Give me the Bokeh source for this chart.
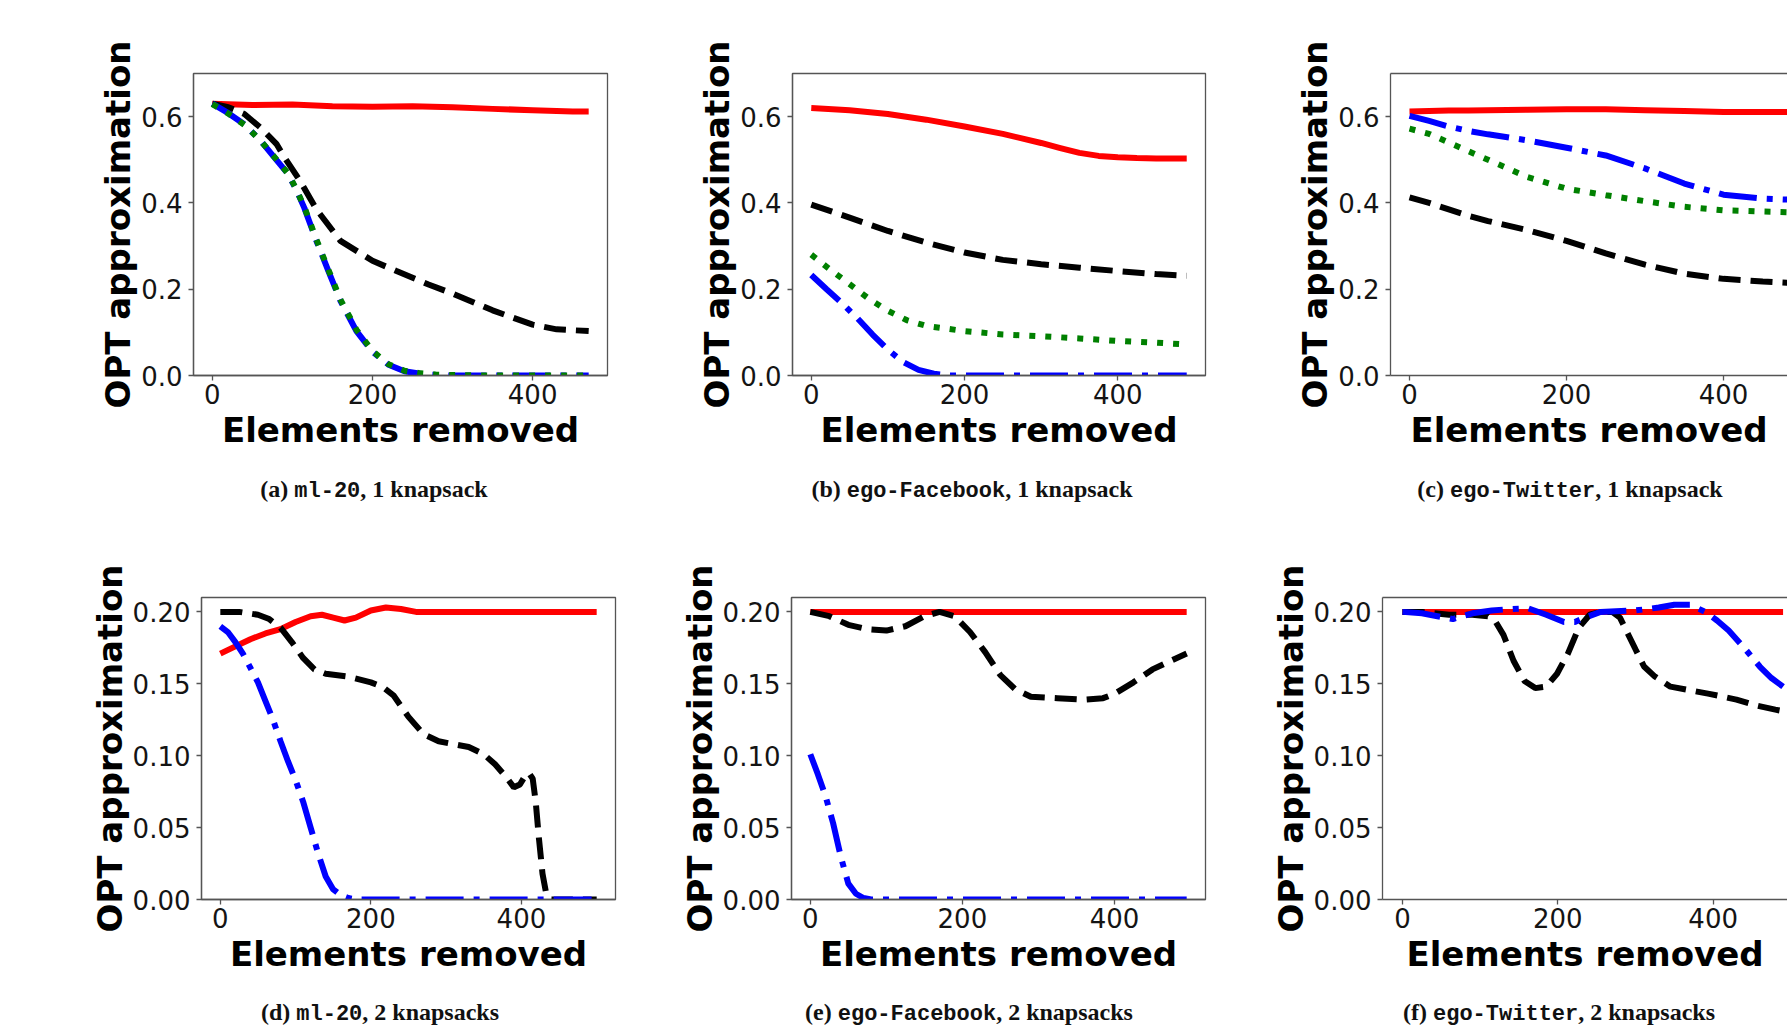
from bokeh.plotting import figure
from bokeh.models import Range1d, FixedTicker, LinearAxis, Div, PrintfTickFormatter
from bokeh.layouts import row, column
from bokeh.embed import file_html
from bokeh.resources import INLINE

# ---------------- data ----------------
x_ticks = [0, 200, 400]
y_ticks_top = [0.0, 0.2, 0.4, 0.6]
y_ticks_bottom = [0.0, 0.05, 0.10, 0.15, 0.20]
x_label = "Elements removed"
y_label = "OPT approximation"

# (a) ml-20, 1 knapsack
a_x_red = [0, 50, 100, 150, 200, 250, 300, 350, 400, 450, 470]
a_red = [0.630, 0.627, 0.628, 0.624, 0.623, 0.624, 0.622, 0.618, 0.615, 0.612, 0.612]
a_x_black = [0, 20, 40, 60, 80, 90, 110, 130, 160, 200, 230, 270, 300, 350, 400, 430, 470]
a_black = [0.630, 0.622, 0.606, 0.575, 0.537, 0.506, 0.450, 0.385, 0.312, 0.266, 0.242, 0.211, 0.190, 0.151, 0.118, 0.107, 0.103]
a_x_blue = [0, 20, 40, 60, 80, 95, 105, 115, 130, 145, 160, 180, 200, 220, 240, 260, 280, 300, 350, 400, 470]
a_blue = [0.630, 0.608, 0.582, 0.545, 0.500, 0.466, 0.430, 0.388, 0.312, 0.242, 0.173, 0.103, 0.055, 0.025, 0.010, 0.004, 0.001, 0.0, 0.0, 0.0, 0.0]
a_green = [0.629, 0.607, 0.581, 0.545, 0.501, 0.467, 0.431, 0.390, 0.315, 0.245, 0.176, 0.106, 0.057, 0.026, 0.011, 0.005, 0.002, 0.001, 0.0, 0.0, 0.0]

# (b) ego-Facebook, 1 knapsack
b_x_red = [0, 50, 100, 150, 200, 250, 300, 325, 350, 375, 400, 425, 450, 490]
b_red = [0.620, 0.615, 0.606, 0.593, 0.577, 0.560, 0.539, 0.527, 0.516, 0.509, 0.506, 0.504, 0.503, 0.503]
b_x = [0, 50, 100, 150, 200, 250, 300, 350, 400, 450, 490]
b_black = [0.396, 0.366, 0.335, 0.308, 0.285, 0.268, 0.258, 0.250, 0.242, 0.235, 0.231]
b_x_green = [0, 25, 50, 75, 100, 125, 150, 200, 250, 300, 350, 400, 450, 490]
b_green = [0.280, 0.245, 0.212, 0.178, 0.150, 0.128, 0.115, 0.103, 0.095, 0.091, 0.086, 0.080, 0.076, 0.072]
b_x_blue = [0, 20, 40, 60, 80, 100, 120, 140, 160, 180, 250, 300, 400, 490]
b_blue = [0.233, 0.200, 0.168, 0.133, 0.095, 0.060, 0.031, 0.013, 0.004, 0.0, 0.0, 0.0, 0.0, 0.0]

# (c) ego-Twitter, 1 knapsack
c_x = [0, 25, 50, 75, 100, 150, 200, 250, 300, 350, 400, 450, 490]
c_red = [0.612, 0.613, 0.614, 0.614, 0.615, 0.616, 0.617, 0.617, 0.615, 0.613, 0.611, 0.611, 0.611]
c_blue = [0.602, 0.590, 0.577, 0.567, 0.559, 0.545, 0.528, 0.510, 0.480, 0.445, 0.419, 0.410, 0.407]
c_green = [0.572, 0.560, 0.540, 0.520, 0.500, 0.460, 0.433, 0.418, 0.404, 0.391, 0.383, 0.380, 0.378]
c_black = [0.413, 0.400, 0.385, 0.370, 0.358, 0.337, 0.312, 0.283, 0.257, 0.236, 0.224, 0.218, 0.214]

# (d) ml-20, 2 knapsacks
d_x_red = [0, 20, 40, 60, 80, 100, 120, 135, 150, 165, 180, 200, 220, 240, 260, 280, 350, 400, 450, 500]
d_red = [0.171, 0.176, 0.181, 0.185, 0.188, 0.193, 0.197, 0.198, 0.196, 0.194, 0.196, 0.201, 0.203, 0.202, 0.200, 0.200, 0.200, 0.200, 0.200, 0.200]
d_x_black = [0, 25, 50, 65, 80, 95, 110, 125, 140, 170, 200, 215, 230, 250, 270, 290, 330, 350, 365, 380, 390, 398, 405, 410, 415, 419, 423, 428, 433, 440, 470, 500]
d_black = [0.200, 0.200, 0.198, 0.195, 0.189, 0.179, 0.168, 0.160, 0.157, 0.155, 0.151, 0.148, 0.142, 0.127, 0.115, 0.110, 0.106, 0.101, 0.094, 0.085, 0.078, 0.080, 0.086, 0.088, 0.084, 0.068, 0.044, 0.018, 0.004, 0.0, 0.0, 0.0]
d_x_blue = [0, 10, 20, 30, 40, 50, 60, 70, 80, 90, 100, 110, 120, 130, 140, 150, 160, 170, 180, 250, 350, 450, 500]
d_blue = [0.190, 0.186, 0.179, 0.171, 0.161, 0.151, 0.138, 0.125, 0.110, 0.096, 0.083, 0.068, 0.050, 0.032, 0.016, 0.007, 0.003, 0.001, 0.0, 0.0, 0.0, 0.0, 0.0]

# (e) ego-Facebook, 2 knapsacks
e_x_red = [0, 100, 200, 300, 400, 495]
e_red = [0.200, 0.200, 0.200, 0.200, 0.200, 0.200]
e_x_black = [0, 25, 50, 75, 100, 125, 150, 170, 190, 210, 230, 250, 270, 290, 325, 360, 385, 400, 425, 450, 470, 495]
e_black = [0.200, 0.197, 0.191, 0.188, 0.187, 0.190, 0.197, 0.200, 0.197, 0.186, 0.172, 0.156, 0.146, 0.141, 0.140, 0.139, 0.140, 0.143, 0.151, 0.160, 0.165, 0.171]
e_x_blue = [0, 10, 20, 30, 40, 50, 60, 70, 80, 150, 250, 350, 450, 495]
e_blue = [0.101, 0.087, 0.072, 0.053, 0.030, 0.011, 0.004, 0.001, 0.0, 0.0, 0.0, 0.0, 0.0, 0.0]

# (f) ego-Twitter, 2 knapsacks
f_x_red = [0, 100, 200, 300, 400, 490]
f_red = [0.200, 0.200, 0.200, 0.200, 0.200, 0.200]
f_x_black = [0, 25, 60, 90, 110, 120, 130, 143, 157, 171, 185, 199, 213, 227, 241, 255, 270, 280, 290, 300, 311, 325, 345, 365, 395, 430, 455, 480, 490]
f_black = [0.200, 0.200, 0.198, 0.198, 0.197, 0.193, 0.184, 0.166, 0.152, 0.147, 0.148, 0.157, 0.171, 0.189, 0.198, 0.200, 0.200, 0.196, 0.185, 0.174, 0.162, 0.155, 0.148, 0.146, 0.143, 0.139, 0.135, 0.132, 0.131]
f_x_blue = [0, 25, 45, 65, 90, 115, 140, 162, 185, 208, 222, 235, 255, 300, 330, 350, 370, 390, 405, 420, 440, 460, 475, 490]
f_blue = [0.200, 0.199, 0.197, 0.195, 0.199, 0.201, 0.202, 0.2025, 0.198, 0.193, 0.193, 0.196, 0.200, 0.201, 0.203, 0.205, 0.205, 0.200, 0.194, 0.187, 0.175, 0.162, 0.154, 0.148]

captions_top = [("(a) ", "ml-20", ", 1 knapsack"), ("(b) ", "ego-Facebook", ", 1 knapsack"), ("(c) ", "ego-Twitter", ", 1 knapsack")]
captions_bottom = [("(d) ", "ml-20", ", 2 knapsacks"), ("(e) ", "ego-Facebook", ", 2 knapsacks"), ("(f) ", "ego-Twitter", ", 2 knapsacks")]

# ---------------- styles ----------------
FRAME = "#555555"
TXT = "#141414"
LW = 6
STYLE = {
    "red": dict(line_color="#ff0000", line_width=LW, line_join="round"),
    "black": dict(line_color="#000000", line_width=LW, line_dash="22 10"),
    "blue": dict(line_color="#0000ff", line_width=LW, line_dash="38 10 6 10"),
    "green": dict(line_color="#008000", line_width=LW, line_dash="6 10"),
}


def panel(width, height, bl, br, bt, bb, xr, yr, yticks, yfmt, open_right, series):
    p = figure(width=width, height=height, x_range=Range1d(*xr), y_range=Range1d(*yr),
               output_backend="svg", toolbar_location=None, tools="",
               min_border_left=bl, min_border_right=br, min_border_top=bt, min_border_bottom=bb,
               background_fill_color="white", border_fill_color="white")
    p.xgrid.visible = False
    p.ygrid.visible = False
    xa = p.below[0]
    ya = p.left[0]
    for ax in (xa, ya):
        ax.axis_line_color = FRAME
        ax.axis_line_width = 1.3
        ax.major_tick_line_color = FRAME
        ax.major_tick_line_width = 1.3
        ax.major_tick_in = 0
        ax.major_tick_out = 5
        ax.minor_tick_line_color = None
        ax.major_label_text_font = "DejaVu Sans"
        ax.major_label_text_font_size = "26px"
        ax.major_label_text_color = TXT
        ax.axis_label_text_font = "DejaVu Sans"
        ax.axis_label_text_font_size = "34px"
        ax.axis_label_text_font_style = "bold"
        ax.axis_label_text_color = "#000000"
    xa.ticker = FixedTicker(ticks=x_ticks)
    xa.axis_label = x_label
    xa.major_label_standoff = 3
    xa.axis_label_standoff = 3
    ya.ticker = FixedTicker(ticks=yticks)
    ya.formatter = PrintfTickFormatter(format=yfmt)
    ya.axis_label = y_label
    ya.major_label_standoff = 6
    ya.axis_label_standoff = 0
    if open_right:
        p.outline_line_color = None
        top = LinearAxis(ticker=FixedTicker(ticks=[]), axis_line_color=FRAME, axis_line_width=1.3,
                         major_tick_line_color=None, minor_tick_line_color=None,
                         major_label_text_font_size="0px", major_label_standoff=0,
                         axis_label_standoff=0)
        p.add_layout(top, "above")
    else:
        p.outline_line_color = FRAME
        p.outline_line_width = 1.3
        p.outline_line_alpha = 1.0
    for name, xs, ys in series:
        p.line(xs, ys, **STYLE[name])
    return p


H1, BT1, BB1 = 473, 73, 98
H2, BT2, BB2 = 470, 72, 96

pa = panel(660, H1, 193, 53, BT1, BB1, (-23.5, 493.5), (0, 0.7), y_ticks_top, "%.1f", False,
           [("red", a_x_red, a_red), ("black", a_x_black, a_black), ("blue", a_x_blue, a_blue), ("green", a_x_blue, a_green)])
pb = panel(600, H1, 132, 55, BT1, BB1, (-24.5, 514.5), (0, 0.7), y_ticks_top, "%.1f", False,
           [("red", b_x_red, b_red), ("black", b_x, b_black), ("blue", b_x_blue, b_blue), ("green", b_x_green, b_green)])
pc = panel(527, H1, 130, 0, BT1, BB1, (-24.2, 481.5), (0, 0.7), y_ticks_top, "%.1f", True,
           [("red", c_x, c_red), ("black", c_x, c_black), ("blue", c_x, c_blue), ("green", c_x, c_green)])

pd_ = panel(665, H2, 201, 50, BT2, BB2, (-25, 525), (0, 0.21), y_ticks_bottom, "%.2f", False,
            [("red", d_x_red, d_red), ("black", d_x_black, d_black), ("blue", d_x_blue, d_blue)])
pe = panel(595, H2, 126, 55, BT2, BB2, (-24.75, 519.75), (0, 0.21), y_ticks_bottom, "%.2f", False,
           [("red", e_x_red, e_red), ("black", e_x_black, e_black), ("blue", e_x_blue, e_blue)])
pf = panel(527, H2, 122, 0, BT2, BB2, (-25.7, 495.7), (0, 0.21), y_ticks_bottom, "%.2f", True,
           [("red", f_x_red, f_red), ("black", f_x_black, f_black), ("blue", f_x_blue, f_blue)])


def caption_div(caps, centers, cy, height):
    serif = "font-family:'Liberation Serif',serif;font-weight:bold;font-size:24px;color:#111;"
    mono = "font-family:'Liberation Mono',monospace;font-weight:bold;font-size:22px;"
    parts = []
    for (pre, code, post), cx in zip(caps, centers):
        parts.append(
            f"<span style=\"position:absolute;left:{cx}px;top:{cy}px;transform:translate(-50%,-50%);"
            f"white-space:nowrap;{serif}\">{pre}<span style=\"{mono}\">{code}</span>{post}</span>")
    html = f"<div style=\"position:relative;width:1787px;height:{height}px;\">" + "".join(parts) + "</div>"
    return Div(text=html, width=1787, height=height, margin=0)


cap1 = caption_div(captions_top, [374, 972, 1570], 17, 52)
cap2 = caption_div(captions_bottom, [380, 969, 1559], 18, 34)

layout = column(row(pa, pb, pc), cap1, row(pd_, pe, pf), cap2)

open("out.html", "w").write(file_html(layout, INLINE))
